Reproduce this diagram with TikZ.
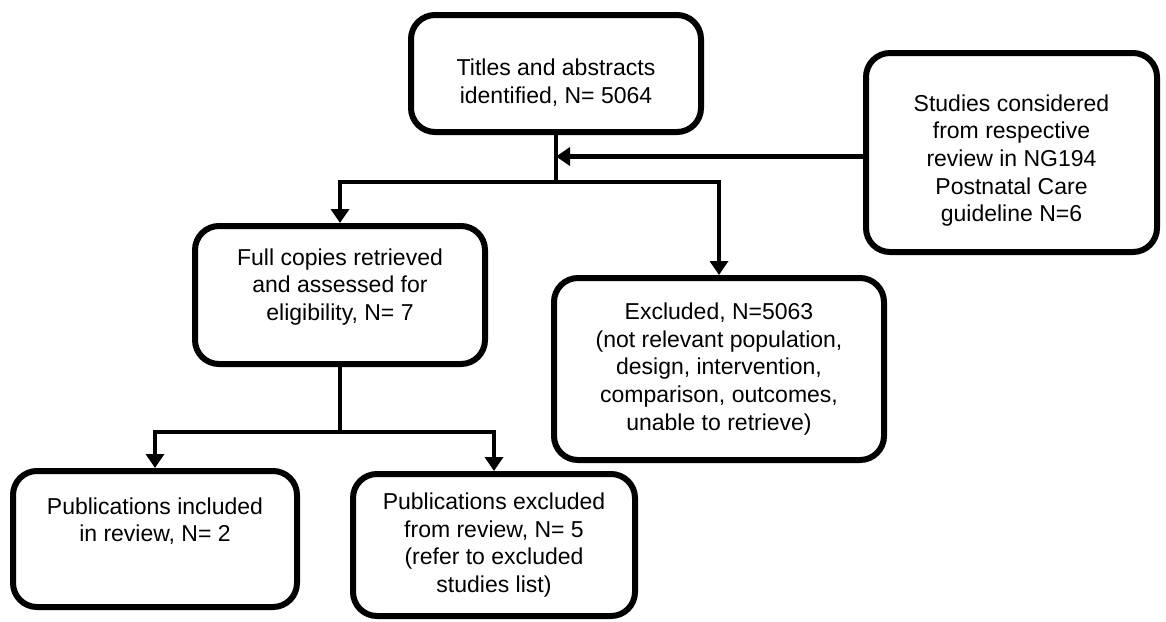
\documentclass[tikz,border=0pt]{standalone}
\usepackage{fontspec}
\setmainfont{Liberation Sans}
\usetikzlibrary{arrows.meta}
\begin{document}
\begin{tikzpicture}[x=1pt,y=-1pt,
  box/.style={draw, line width=6pt, rounded corners=24pt, inner sep=0pt},
  txt/.style={align=center, inner sep=0pt, font=\fontsize{23}{27.6}\selectfont},
  conn/.style={line width=4.5pt},
  arr/.style={conn, -{Triangle[length=14pt,width=18pt]}}]
\useasboundingbox (0,0) rectangle (1166,621);
% boxes
\node[box, minimum width=290pt, minimum height=117pt] (titles) at (556,73.5) {};
\node[box, minimum width=291pt, minimum height=199pt] (studies) at (1011.5,152.5) {};
\node[box, minimum width=290pt, minimum height=138pt] (full) at (340,295) {};
\node[box, minimum width=330pt, minimum height=182pt] (excl) at (719,369) {};
\node[box, minimum width=284pt, minimum height=136pt] (incl) at (155,539) {};
\node[box, minimum width=282pt, minimum height=142pt] (pexcl) at (494,545) {};
% texts
\node[txt] (titlesT) at ([yshift=-9pt]titles.center) {Titles and abstracts\\identified, N= 5064};
\node[txt] (studiesT) at ([yshift=-8pt]studies.center) {Studies considered\\from respective\\review in NG194\\Postnatal Care\\guideline N=6};
\node[txt] (fullT) at ([yshift=8pt]full.center) {Full copies retrieved\\and assessed for\\eligibility, N= 7};
\node[txt] (exclT) at (excl.center) {Excluded, N=5063\\(not relevant population,\\design, intervention,\\comparison, outcomes,\\unable to retrieve)};
\node[txt] (inclT) at ([yshift=18pt]incl.center) {Publications included\\in review, N= 2};
\node[txt] (pexclT) at (pexcl.center) {Publications excluded\\from review, N= 5\\(refer to excluded\\studies list)};
% connectors
\draw[conn] (titles.south) -- ++(0,47) coordinate (b1);
\draw[arr] (b1) -| (full.north);
\draw[arr] (b1) -| (excl.north);
\draw[arr] ([yshift=-4pt]studies.west) -- ([yshift=-4pt]studies.west -| b1);
\draw[conn] (full.south) -- ++(0,65) coordinate (b2);
\draw[arr] (b2) -| (incl.north);
\draw[arr] (b2) -| (pexcl.north);
\end{tikzpicture}
\end{document}
